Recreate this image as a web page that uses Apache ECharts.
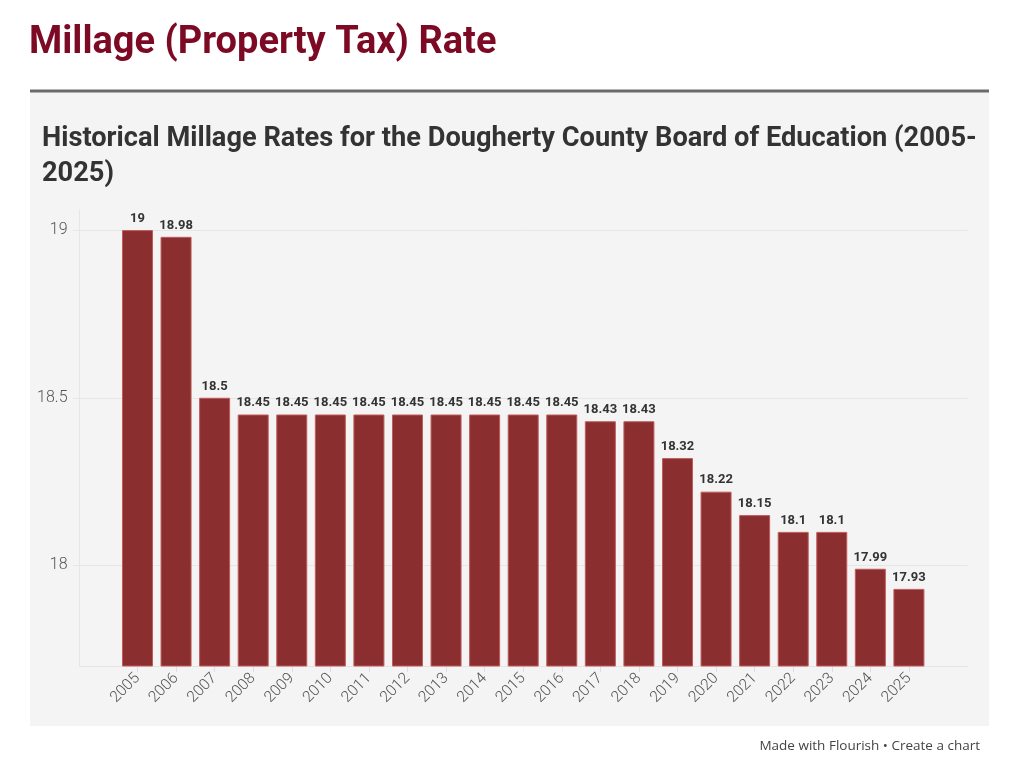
<!DOCTYPE html>
<html>
<head>
<meta charset="utf-8">
<script src="https://cdn.jsdelivr.net/npm/echarts@6/dist/echarts.min.js"></script>
<style>
html,body{margin:0;padding:0;background:#fff;}
#chart{width:1024px;height:772px;}
</style>
</head>
<body>
<div id="chart"></div>
<script>
const years = ['2005','2006','2007','2008','2009','2010','2011','2012','2013','2014','2015','2016','2017','2018','2019','2020','2021','2022','2023','2024','2025'];
const rates = [19, 18.98, 18.5, 18.45, 18.45, 18.45, 18.45, 18.45, 18.45, 18.45, 18.45, 18.45, 18.43, 18.43, 18.32, 18.22, 18.15, 18.1, 18.1, 17.99, 17.93];
const yTicks = [18, 18.5, 19];
const titleText = 'Millage (Property Tax) Rate';
const subtitleLines = ['Historical Millage Rates for the Dougherty County Board of Education (2005-', '2025)'];
const footerText = 'Made with Flourish \u2022 Create a chart';

const yMin = 17.7, yMax = 19.06;
const gridTop = 210, gridBottom = 772 - 666;

// fit subtitle font size so the first line spans the same width as the reference
const subFamily = 'Roboto, "Noto Sans", sans-serif';
const cv = document.createElement('canvas').getContext('2d');
cv.font = 'bold 24px ' + subFamily;
const w24 = cv.measureText(subtitleLines[0]).width;
let subSize = 24 * 935 / w24;
if (!isFinite(subSize) || subSize <= 0) subSize = 27;

const chart = echarts.init(document.getElementById('chart'));
const axisFont = 'Roboto, "Noto Sans", sans-serif';
chart.setOption({
  backgroundColor: '#ffffff',
  animation: false,
  graphic: [
    { type: 'rect', silent: true, z: -10, shape: { x: 30, y: 92, width: 959, height: 634 }, style: { fill: '#f4f4f4' } },
    { type: 'rect', silent: true, z: -9, shape: { x: 30, y: 89.5, width: 959, height: 3 }, style: { fill: '#6b6b6b' } },
    { type: 'text', left: 29, top: 24, style: { text: titleText, fill: '#7c0a25', font: 'bold 38px Roboto, "Noto Sans", sans-serif' } },
    { type: 'text', left: 42, top: 122, style: { text: subtitleLines.join('\n'), fill: '#333333', font: 'bold ' + subSize.toFixed(2) + 'px ' + subFamily, lineHeight: 35 } },
    { type: 'text', right: 44, top: 739, style: { text: footerText, fill: '#444444', font: '13.5px "Open Sans", "Noto Sans", sans-serif' } }
  ],
  grid: [
    { left: 79.5, right: 56.5, top: gridTop, bottom: gridBottom, containLabel: false },
    { left: 118.2, right: 95.8, top: gridTop, bottom: gridBottom, containLabel: false }
  ],
  xAxis: [
    { type: 'value', gridIndex: 0, min: 0, max: 1, axisLabel: { show: false }, axisTick: { show: false }, splitLine: { show: false },
      axisLine: { show: true, lineStyle: { color: '#e4e4e4', width: 1 } } },
    { type: 'category', gridIndex: 1, data: years,
      axisLine: { show: false },
      axisTick: { show: true, alignWithLabel: true, length: 6, lineStyle: { color: '#dedede' } },
      axisLabel: { rotate: 45, margin: 10, color: '#555555', fontSize: 15.5, fontFamily: axisFont, fontWeight: 300 } }
  ],
  yAxis: [
    { type: 'value', gridIndex: 0, min: yMin, max: yMax,
      axisLine: { show: true, lineStyle: { color: '#e6e6e6' } },
      axisTick: { show: true, length: 7, customValues: yTicks, lineStyle: { color: '#e6e6e6' } },
      axisLabel: { customValues: yTicks, margin: 12, color: '#555555', fontSize: 16, fontFamily: axisFont, fontWeight: 300 },
      splitLine: { show: true, lineStyle: { color: '#e6e6e6', width: 1 } } },
    { type: 'value', gridIndex: 1, min: yMin, max: yMax, show: false, splitLine: { show: false } }
  ],
  series: [{
    type: 'bar', xAxisIndex: 1, yAxisIndex: 1, data: rates, barWidth: 31,
    itemStyle: { color: '#8a2e2f', borderColor: '#c25a5a', borderWidth: 1 },
    label: { show: true, position: 'top', distance: 5, color: '#333333', fontSize: 13, fontWeight: 'bold', fontFamily: axisFont }
  }]
});
</script>
</body>
</html>
